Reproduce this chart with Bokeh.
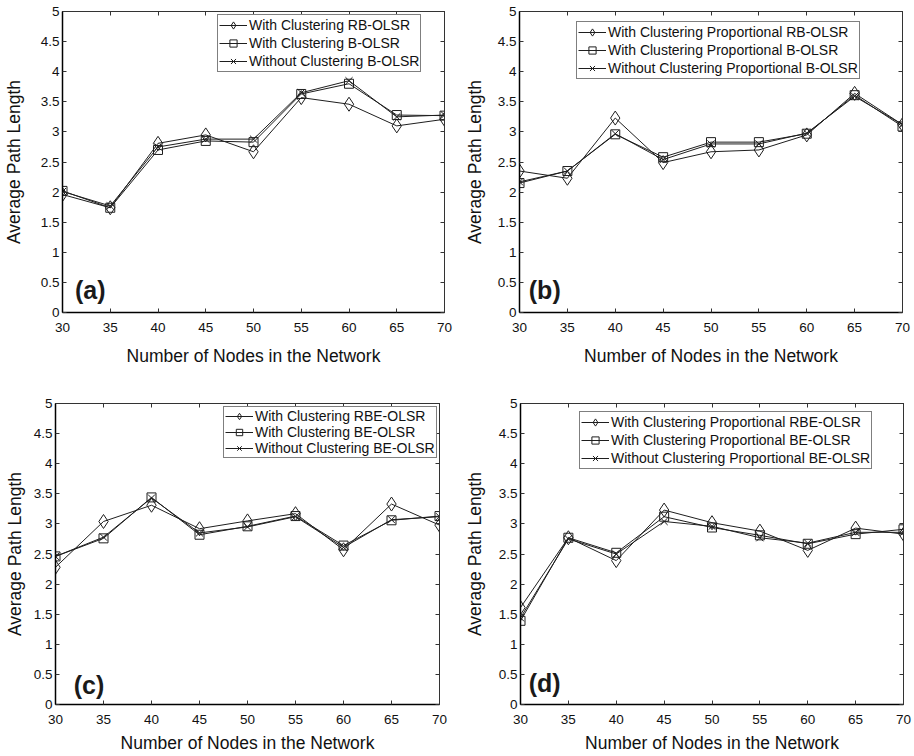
from bokeh.plotting import figure
from bokeh.models import Range1d, FixedTicker, LinearAxis, Label, Legend, CustomJSTickFormatter
from bokeh.layouts import column, row
from bokeh.embed import file_html
from bokeh.resources import INLINE

# ---------------- data ----------------
nodes = [30, 35, 40, 45, 50, 55, 60, 65, 70]
x_ticks = [30, 35, 40, 45, 50, 55, 60, 65, 70]
y_ticks = [0, 0.5, 1, 1.5, 2, 2.5, 3, 3.5, 4, 4.5, 5]
y_tick_labels = ["0", "0.5", "1", "1.5", "2", "2.5", "3", "3.5", "4", "4.5", "5"]
x_label = "Number of Nodes in the Network"
y_label = "Average Path Length"

# (a)
a_labels = ["With Clustering RB-OLSR", "With Clustering B-OLSR", "Without Clustering B-OLSR"]
a_rb = [1.96, 1.74, 2.81, 2.95, 2.67, 3.57, 3.46, 3.10, 3.21]
a_b = [2.02, 1.74, 2.70, 2.85, 2.83, 3.63, 3.80, 3.28, 3.27]
a_wo = [2.01, 1.77, 2.75, 2.88, 2.88, 3.65, 3.85, 3.25, 3.28]

# (b)
b_labels = ["With Clustering Proportional RB-OLSR", "With Clustering Proportional B-OLSR",
            "Without Clustering Proportional B-OLSR"]
b_rb = [2.35, 2.23, 3.23, 2.49, 2.67, 2.70, 2.95, 3.64, 3.12]
b_b = [2.15, 2.35, 2.96, 2.58, 2.83, 2.83, 2.97, 3.61, 3.09]
b_wo = [2.17, 2.35, 2.97, 2.54, 2.80, 2.80, 2.98, 3.59, 3.12]

# (c)
c_labels = ["With Clustering RBE-OLSR", "With Clustering BE-OLSR", "Without Clustering BE-OLSR"]
c_rb = [2.28, 3.04, 3.31, 2.92, 3.05, 3.17, 2.57, 3.33, 2.98]
c_b = [2.46, 2.76, 3.44, 2.82, 2.96, 3.13, 2.64, 3.06, 3.13]
c_wo = [2.46, 2.78, 3.43, 2.85, 2.95, 3.12, 2.61, 3.07, 3.12]

# (d)
d_labels = ["With Clustering Proportional RBE-OLSR", "With Clustering Proportional BE-OLSR",
            "Without Clustering Proportional BE-OLSR"]
d_rb = [1.61, 2.77, 2.39, 3.23, 3.02, 2.88, 2.56, 2.93, 2.83]
d_b = [1.39, 2.77, 2.52, 3.12, 2.94, 2.81, 2.67, 2.83, 2.91]
d_wo = [1.44, 2.75, 2.50, 3.04, 2.96, 2.77, 2.68, 2.86, 2.86]

FONT = "Liberation Sans"
LC = "#1e1e1e"


def panel(tag, labels, s1, s2, s3, w, h, bl, br, bt, bb, ylab_standoff, xlab_standoff,
          leg_xy, leg_row, tag_xy):
    p = figure(width=w, height=h, output_backend="svg", toolbar_location=None,
               x_range=Range1d(30, 70), y_range=Range1d(0, 5),
               min_border_left=bl, min_border_right=br, min_border_top=bt,
               min_border_bottom=bb)
    p.grid.visible = False
    p.background_fill_color = "white"
    p.border_fill_color = "white"
    p.outline_line_color = "#333333"
    p.outline_line_width = 1

    ov = {v: s for v, s in zip(y_ticks, y_tick_labels)}
    for ax in p.xaxis:
        ax.ticker = FixedTicker(ticks=x_ticks)
        ax.axis_label = x_label
    for ax in p.yaxis:
        ax.ticker = FixedTicker(ticks=y_ticks)
        ax.major_label_overrides = ov
        ax.axis_label = y_label
    for ax in list(p.xaxis) + list(p.yaxis):
        ax.major_tick_in = 4
        ax.major_tick_out = 0
        ax.minor_tick_line_color = None
        ax.axis_line_width = 1.5
        ax.axis_line_color = "black"
        ax.major_tick_line_color = "#333333"
        ax.major_label_text_font = FONT
        ax.major_label_text_font_size = "13.5px"
        ax.major_label_text_color = "#111111"
        ax.axis_label_text_font = FONT
        ax.axis_label_text_font_size = "17.5px"
        ax.axis_label_text_font_style = "normal"
        ax.axis_label_text_color = "#111111"
    p.xaxis.major_label_standoff = 10
    p.xaxis.axis_label_standoff = xlab_standoff
    p.yaxis.major_label_standoff = 3
    p.yaxis.axis_label_standoff = ylab_standoff

    # ticks on top and right (MATLAB box style), without labels
    blank = CustomJSTickFormatter(code="return ''")
    top = LinearAxis(ticker=FixedTicker(ticks=x_ticks), formatter=blank,
                     major_tick_in=4, major_tick_out=0, minor_tick_line_color=None,
                     axis_line_color="#333333", major_tick_line_color="#333333",
                     major_label_standoff=0)
    right = LinearAxis(ticker=FixedTicker(ticks=y_ticks), formatter=blank,
                       major_tick_in=4, major_tick_out=0, minor_tick_line_color=None,
                       axis_line_color="#333333", major_tick_line_color="#333333",
                       major_label_standoff=0)
    p.add_layout(top, "above")
    p.add_layout(right, "right")

    items = []
    for lab, ys, mk, sz in zip(labels, [s1, s2, s3], ["diamond", "square", "x"], [14, 9, 10]):
        ln = p.line(nodes, ys, line_color=LC, line_width=1)
        sc = p.scatter(nodes, ys, marker=mk, size=sz, line_color=LC, line_width=1,
                       fill_alpha=0)
        items.append((lab, [ln, sc]))

    leg = Legend(items=items, location=leg_xy)
    leg.label_text_font = FONT
    leg.label_text_font_size = "14px"
    leg.label_text_color = "#111111"
    leg.glyph_width = 28
    leg.glyph_height = leg_row
    leg.label_height = leg_row
    leg.label_standoff = 2
    leg.spacing = 0
    leg.padding = 1
    leg.margin = 0
    leg.border_line_color = "black"
    leg.border_line_width = 1
    leg.background_fill_color = "white"
    leg.background_fill_alpha = 1
    p.add_layout(leg, "center")

    p.add_layout(Label(x=tag_xy[0], y=tag_xy[1], text=tag, text_font=FONT,
                       text_font_size="25px", text_font_style="bold",
                       text_color="#1a1a1a", text_baseline="middle", text_align="left"))
    return p


pa = panel("(a)", a_labels, a_rb, a_b, a_wo, 457, 393, 62, 13, 11, 81, 14, 11,
           (155, 240), 18, (31.3, 0.37))
pb = panel("(b)", b_labels, b_rb, b_b, b_wo, 457, 393, 62, 12, 11, 81, 10, 11,
           (57, 233), 18, (30.97, 0.37))
pc = panel("(c)", c_labels, c_rb, c_b, c_wo, 457, 363, 55, 18, 10, 52, 6, 6,
           (168, 246), 16, (31.9, 0.33))
pd = panel("(d)", d_labels, d_rb, d_b, d_wo, 457, 363, 63, 11, 10, 52, 11, 6,
           (59, 235), 18, (30.85, 0.35))

layout = column(row(pa, pb), row(pc, pd))
open("out.html", "w").write(file_html(layout, INLINE))
